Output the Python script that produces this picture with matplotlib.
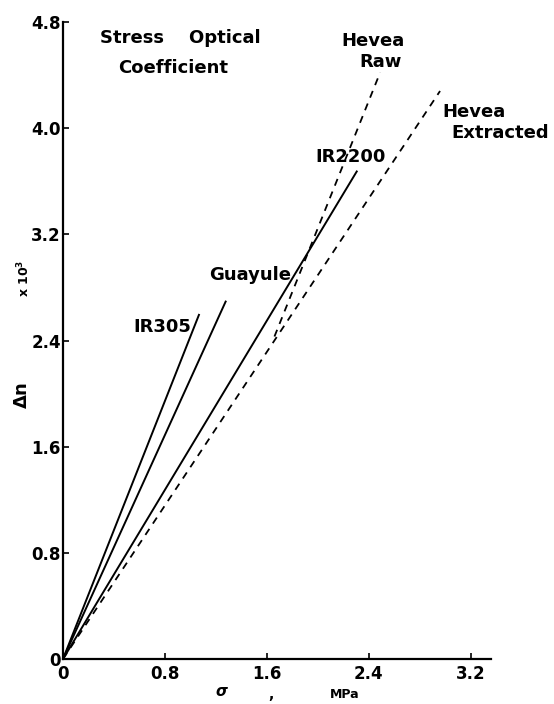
import matplotlib.pyplot as plt

# birefringence (x 10^3) vs. stress (MPa) for each rubber
ir305_stress = [0, 1.07]
ir305_dn = [0, 2.60]
guayule_stress = [0, 1.28]
guayule_dn = [0, 2.70]
ir2200_stress = [0, 2.31]
ir2200_dn = [0, 3.68]
raw_stress = [1.66, 2.49]
raw_dn = [2.43, 4.42]
extracted_stress = [0, 2.96]
extracted_dn = [0, 4.28]

x_ticks = [0, 0.8, 1.6, 2.4, 3.2]
x_ticklabels = ['0', '0.8', '1.6', '2.4', '3.2']
y_ticks = [0, 0.8, 1.6, 2.4, 3.2, 4.0, 4.8]
y_ticklabels = ['0', '0.8', '1.6', '2.4', '3.2', '4.0', '4.8']

plt.rcParams['font.family'] = ['DejaVu Sans']
plt.rcParams['font.weight'] = 'bold'

fig = plt.figure(figsize=(5.54, 7.04), dpi=100)
ax = fig.add_axes([63 / 554, 1 - 659 / 704, (491 - 63) / 554, (659 - 22) / 704])

solid = dict(color='black', lw=1.4, solid_capstyle='butt')
dashed = dict(color='black', lw=1.3, linestyle=(0, (4, 3.5)))

ax.plot(ir305_stress, ir305_dn, **solid)
ax.plot(guayule_stress, guayule_dn, **solid)
ax.plot(ir2200_stress, ir2200_dn, **solid)
ax.plot(raw_stress, raw_dn, **dashed)
ax.plot(extracted_stress, extracted_dn, **dashed)

ax.set_xlim(0, 3.36)
ax.set_ylim(0, 4.8)
for side in ['top', 'right']:
    ax.spines[side].set_visible(False)
for side in ['left', 'bottom']:
    ax.spines[side].set_linewidth(1.6)

ax.set_xticks(x_ticks)
ax.set_xticklabels(x_ticklabels)
ax.set_yticks(y_ticks)
ax.set_yticklabels(y_ticklabels)
ax.tick_params(axis='both', direction='in', length=4, width=1.2,
               labelsize=12)
ax.tick_params(axis='x', pad=4)
ax.tick_params(axis='y', pad=1.5)
for lab in ax.get_xticklabels() + ax.get_yticklabels():
    lab.set_fontweight('bold')

# curve labels
lab_kw = dict(fontsize=13, fontweight='bold', va='center')
ax.text(0.29, 4.68, 'Stress    Optical', ha='left', **lab_kw)
ax.text(0.43, 4.45, 'Coefficient', ha='left', **lab_kw)
ax.text(2.43, 4.66, 'Hevea', ha='center', **lab_kw)
ax.text(2.49, 4.50, 'Raw', ha='center', **lab_kw)
ax.text(2.98, 4.12, 'Hevea', ha='left', clip_on=False, **lab_kw)
ax.text(3.05, 3.96, 'Extracted', ha='left', clip_on=False, **lab_kw)
ax.text(1.98, 3.78, 'IR2200', ha='left', **lab_kw)
ax.text(1.15, 2.89, 'Guayule', ha='left', **lab_kw)
ax.text(0.55, 2.50, 'IR305', ha='left', **lab_kw)

# axis titles
fig.text(22 / 554, 1 - 395 / 704, r'$\mathbf{\Delta}$n', rotation=90,
         ha='center', va='center', fontsize=13, fontweight='bold')
fig.text(24 / 554, 1 - 278 / 704, 'x 10$^{3}$', rotation=90,
         ha='center', va='center', fontsize=9, fontweight='bold')
fig.text(222 / 554, 1 - 692 / 704, r'$\sigma$', ha='center', va='center',
         fontsize=11, fontweight='bold')
fig.text(271 / 554, 1 - 695 / 704, ',', ha='center', va='center',
         fontsize=10, fontweight='bold')
fig.text(345 / 554, 1 - 695 / 704, 'MPa', ha='center', va='center',
         fontsize=9, fontweight='bold')

fig.savefig('out.png', dpi=100)
